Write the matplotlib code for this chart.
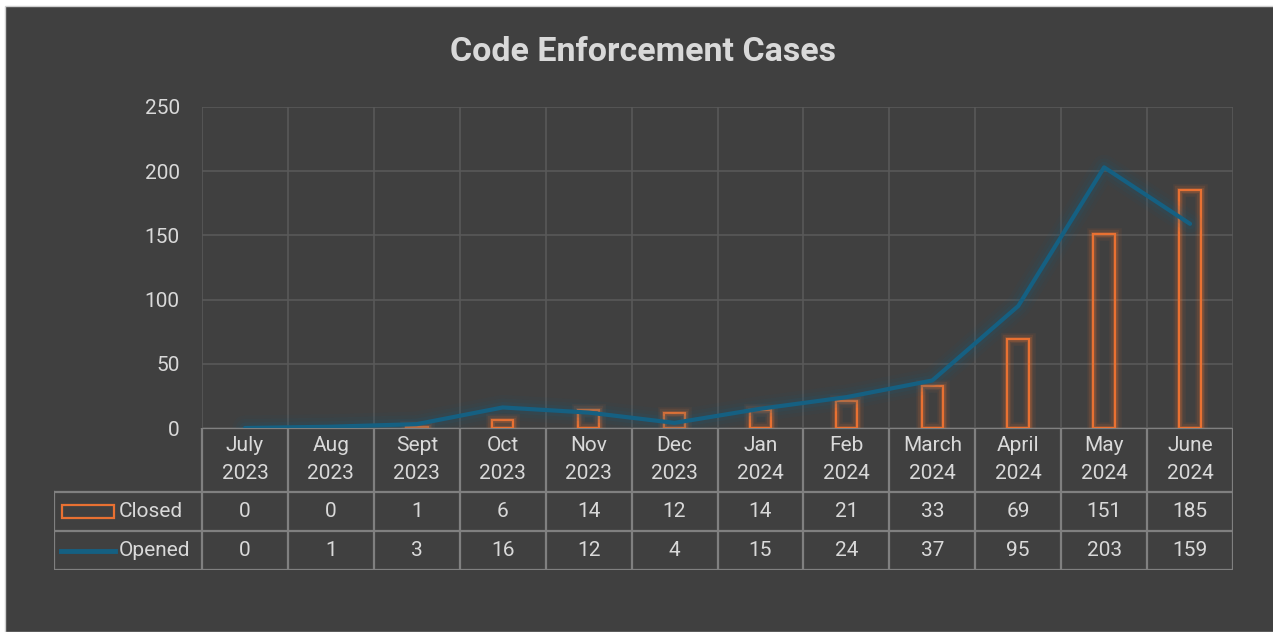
import matplotlib.pyplot as plt
from matplotlib.patches import Rectangle
from matplotlib.lines import Line2D

months = ["July\n2023", "Aug\n2023", "Sept\n2023", "Oct\n2023", "Nov\n2023", "Dec\n2023",
          "Jan\n2024", "Feb\n2024", "March\n2024", "April\n2024", "May\n2024", "June\n2024"]
closed = [0, 0, 1, 6, 14, 12, 14, 21, 33, 69, 151, 185]
opened = [0, 1, 3, 16, 12, 4, 15, 24, 37, 95, 203, 159]
yticks = [0, 50, 100, 150, 200, 250]

W, H = 1273, 632
bg = "#404040"
orange = "#E97132"
blue = "#156082"
txt = "#D9D9D9"
grid = "#595959"
tline = "#808080"
fs = 15

plt.rcParams['font.family'] = ['Roboto', 'DejaVu Sans']

fig = plt.figure(figsize=(W / 100, H / 100), dpi=100)
fig.patch.set_facecolor("#FFFFFF")
fig.patches.append(Rectangle((5 / W, 0), 1, (H - 6) / H, transform=fig.transFigure,
                             facecolor=bg, edgecolor="#D0D0D0", lw=1, zorder=-10))

def fx(p):
    return p / W

def fy(p):
    return 1 - p / H

ax = fig.add_axes([fx(202), fy(428), fx(1233) - fx(202), fy(107) - fy(428)])
ax.patch.set_alpha(0)
ax.set_xlim(0, 12)
ax.set_ylim(0, 250)
for s in ax.spines.values():
    s.set_visible(False)
ax.set_xticks(range(13))
ax.set_xticklabels([])
ax.set_yticks(yticks)
ax.tick_params(axis='both', length=0, colors=txt, labelsize=fs, pad=16)
ax.grid(True, color=grid, lw=1.2)
ax.set_axisbelow(True)

# zero-height bars are not drawn
xb = [i + 0.5 for i in range(12) if closed[i] > 0]
cb = [c for c in closed if c > 0]
x = [i + 0.5 for i in range(12)]

# glow for bars
for lw, a in [(9, 0.08), (6, 0.12), (3.5, 0.2)]:
    ax.bar(xb, cb, width=0.25, facecolor="none", edgecolor=orange, lw=lw, alpha=a, zorder=2)
ax.bar(xb, cb, width=0.25, facecolor="none", edgecolor=orange, lw=1.6, zorder=3)

# glow for line
for lw, a in [(18, 0.06), (13, 0.08), (8, 0.12)]:
    ax.plot(x, opened, color=blue, lw=lw, alpha=a, solid_capstyle='round', zorder=4)
ax.plot(x, opened, color=blue, lw=3, solid_capstyle='round', zorder=5)

# data table
L = (202 - 54) / (1031 / 12)
tb = fig.add_axes([fx(54), fy(570), fx(1233) - fx(54), fy(428) - fy(570)])
tb.set_xlim(-L, 12)
tb.set_ylim(570, 428)
tb.axis('off')
tb.patch.set_alpha(0)

kw = dict(color=tline, lw=1.6, solid_capstyle='projecting')
tb.plot([0, 12], [428, 428], **kw)
for yy in [492, 531, 570]:
    tb.plot([-L, 12], [yy, yy], **kw)
for i in range(13):
    tb.plot([i, i], [428, 570], **kw)
tb.plot([-L, -L], [492, 570], **kw)

for i in range(12):
    tb.text(i + 0.5, 460, months[i], ha='center', va='center', color=txt, fontsize=fs,
            linespacing=1.6)
    tb.text(i + 0.5, 512, str(closed[i]), ha='center', va='center', color=txt, fontsize=fs)
    tb.text(i + 0.5, 551, str(opened[i]), ha='center', va='center', color=txt, fontsize=fs)

px = 1031 / 12
tb.add_patch(Rectangle(((62 - 202) / px, 505), 52 / px, 13, facecolor="none",
                       edgecolor=orange, lw=1.6))
tb.add_line(Line2D([(61 - 202) / px, (115 - 202) / px], [551, 551], color=blue, lw=3.5))
tb.text((119 - 202) / px, 512, "Closed", ha='left', va='center', color=txt, fontsize=fs)
tb.text((119 - 202) / px, 551, "Opened", ha='left', va='center', color=txt, fontsize=fs)

fig.text(fx(643), fy(52), "Code Enforcement Cases", ha='center', va='center',
         color=txt, fontsize=24.5, fontweight='bold')

fig.savefig("out.png", dpi=100, facecolor=fig.get_facecolor())
